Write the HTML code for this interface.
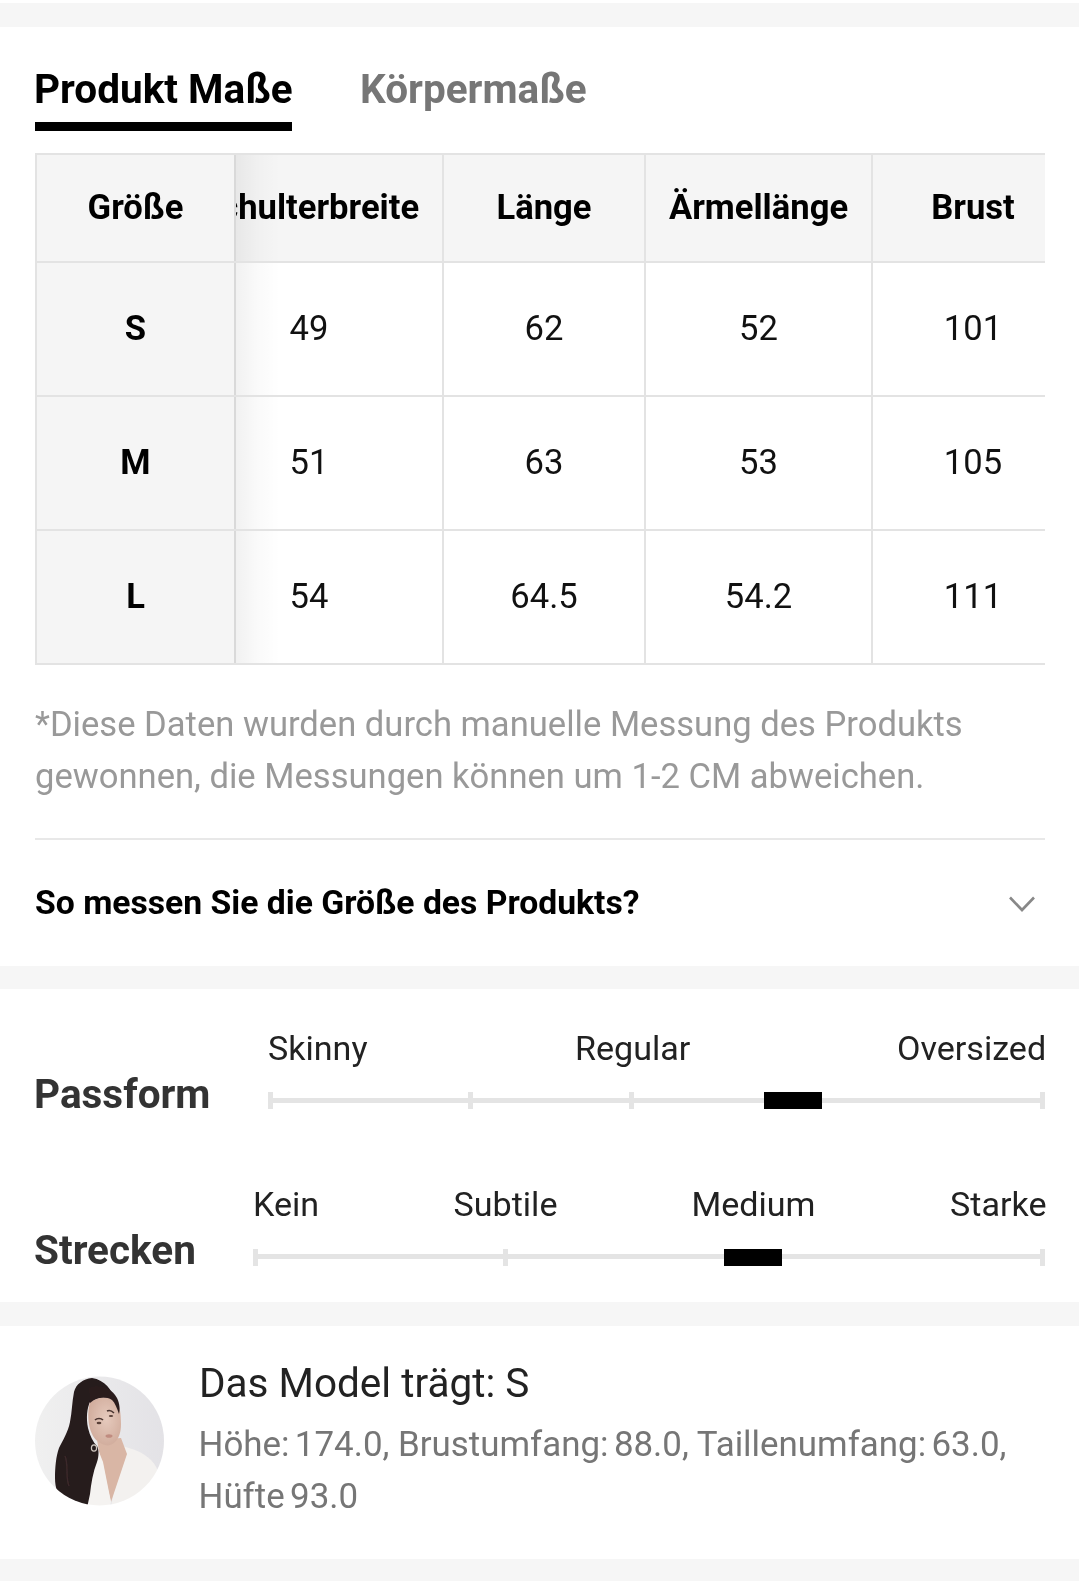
<!DOCTYPE html>
<html lang="de">
<head>
<meta charset="utf-8">
<title>Größentabelle</title>
<style>
*{box-sizing:border-box;margin:0;padding:0}
html,body{width:1079px;height:1590px;overflow:hidden;background:#fff}
body{position:relative;-webkit-font-smoothing:antialiased;font-family:"Roboto","Liberation Sans",Arial,sans-serif;color:#222}
.abs{position:absolute}
#page{position:absolute;left:0;top:0;width:1079px;height:1590px;background:#fff;overflow:hidden;will-change:transform}
.band{position:absolute;left:0;width:1079px;background:#f6f6f6}
.t{position:absolute;white-space:nowrap;line-height:1}
.tab1{left:34px;top:69px;font-size:40.5px;font-weight:700;color:#000}
.tab2{left:360px;top:69px;font-size:40.5px;font-weight:700;color:#767676}
.uline{left:35px;top:122px;width:257px;height:9px;background:#000}
/* table */
.tbl{position:absolute;left:35px;top:153px;width:1010px;height:512px;overflow:hidden}
.hl{position:absolute;left:0;width:1010px;height:2px;background:#e3e3e3}
.vl{position:absolute;top:0;width:2px;height:512px;background:#e3e3e3}
.cell{position:absolute;text-align:center;font-size:34.6px;line-height:1;white-space:nowrap}
.hd{font-weight:700;color:#000}
.num{color:#111}
.sticky{position:absolute;left:0;top:0;width:201px;height:512px;background:#f5f5f5}
.shadow{position:absolute;left:201px;top:0;width:44px;height:512px;background:linear-gradient(to right,rgba(0,0,0,.055),rgba(0,0,0,.02) 50%,rgba(0,0,0,0))}
.note{left:35px;top:698px;font-size:34.6px;line-height:52px;color:#999;white-space:nowrap}
.divider{left:35px;top:838px;width:1010px;height:2px;background:#e8e8e8}
.howto{left:35px;top:885.5px;font-size:33.7px;font-weight:700;color:#000}
.lbl{font-size:40.5px;font-weight:700;color:#333}
.opt{font-size:34.1px;color:#222}
.track{position:absolute;height:5px;background:#e4e4e4}
.tick{position:absolute;width:5px;height:17px;background:#e4e4e4}
.v{margin-left:5.4px}
.thumb{position:absolute;width:58px;height:17px;background:#000}
</style>
</head>
<body>
<div id="page">
<div class="band" style="top:3px;height:24px"></div>

<div class="t tab1">Produkt Maße</div>
<div class="t tab2">Körpermaße</div>
<div class="abs uline"></div>

<div class="tbl">
  <!-- header bg -->
  <div class="abs" style="left:0;top:0;width:1010px;height:110px;background:#f5f5f5"></div>
  <div class="shadow"></div>
  <!-- scrolled columns -->
  <div class="cell hd" style="left:141px;top:37px;width:266px">Schulterbreite</div>
  <div class="cell hd" style="left:409px;top:37px;width:200px">Länge</div>
  <div class="cell hd" style="left:611px;top:37px;width:225px">Ärmellänge</div>
  <div class="cell hd" style="left:838px;top:37px;width:200px">Brust</div>

  <div class="cell num" style="left:141px;top:158px;width:266px">49</div>
  <div class="cell num" style="left:409px;top:158px;width:200px">62</div>
  <div class="cell num" style="left:611px;top:158px;width:225px">52</div>
  <div class="cell num" style="left:838px;top:158px;width:200px">101</div>

  <div class="cell num" style="left:141px;top:292px;width:266px">51</div>
  <div class="cell num" style="left:409px;top:292px;width:200px">63</div>
  <div class="cell num" style="left:611px;top:292px;width:225px">53</div>
  <div class="cell num" style="left:838px;top:292px;width:200px">105</div>

  <div class="cell num" style="left:141px;top:426px;width:266px">54</div>
  <div class="cell num" style="left:409px;top:426px;width:200px">64.5</div>
  <div class="cell num" style="left:611px;top:426px;width:225px">54.2</div>
  <div class="cell num" style="left:838px;top:426px;width:200px">111</div>

  <!-- grid lines -->
  <div class="hl" style="top:0"></div>
  <div class="hl" style="top:108px"></div>
  <div class="hl" style="top:242px"></div>
  <div class="hl" style="top:376px"></div>
  <div class="hl" style="top:510px"></div>
  <div class="vl" style="left:407px"></div>
  <div class="vl" style="left:609px"></div>
  <div class="vl" style="left:836px"></div>

  <!-- sticky first column -->
  <div class="sticky">
    <div class="vl" style="left:0"></div>
    <div class="vl" style="left:199px;background:#d9d9d9"></div>
    <div class="hl" style="top:0;width:201px"></div>
    <div class="hl" style="top:108px;width:201px"></div>
    <div class="hl" style="top:242px;width:201px"></div>
    <div class="hl" style="top:376px;width:201px"></div>
    <div class="hl" style="top:510px;width:201px"></div>
    <div class="cell hd" style="left:2px;top:37px;width:197px">Größe</div>
    <div class="cell hd" style="left:2px;top:158px;width:197px">S</div>
    <div class="cell hd" style="left:2px;top:292px;width:197px">M</div>
    <div class="cell hd" style="left:2px;top:426px;width:197px">L</div>
  </div>
</div>

<div class="t note">*Diese Daten wurden durch manuelle Messung des Produkts<br>gewonnen, die Messungen können um 1-2 CM abweichen.</div>
<div class="abs divider"></div>
<div class="t howto">So messen Sie die Größe des Produkts?</div>
<svg class="abs" style="left:1005px;top:892px" width="34" height="24" viewBox="0 0 34 24"><path d="M5 5.5 L17 18 L29 5.5" fill="none" stroke="#888" stroke-width="2.6"/></svg>

<div class="band" style="top:966px;height:23px"></div>

<!-- Passform -->
<div class="t lbl" style="left:34px;top:1074px">Passform</div>
<div class="t opt" style="left:268px;top:1031px">Skinny</div>
<div class="t opt" style="left:575px;top:1031px">Regular</div>
<div class="t opt" style="left:897px;top:1031px">Oversized</div>
<div class="track" style="left:268px;top:1098px;width:777px"></div>
<div class="tick" style="left:268px;top:1092px"></div>
<div class="tick" style="left:468px;top:1092px"></div>
<div class="tick" style="left:629px;top:1092px"></div>
<div class="tick" style="left:1040px;top:1092px"></div>
<div class="thumb" style="left:764px;top:1092px"></div>

<!-- Strecken -->
<div class="t lbl" style="left:34px;top:1230px">Strecken</div>
<div class="t opt" style="left:253px;top:1187px">Kein</div>
<div class="t opt" style="left:453.5px;top:1187px">Subtile</div>
<div class="t opt" style="left:691.5px;top:1187px">Medium</div>
<div class="t opt" style="left:950px;top:1187px">Starke</div>
<div class="track" style="left:253px;top:1254px;width:792px"></div>
<div class="tick" style="left:253px;top:1249px"></div>
<div class="tick" style="left:503px;top:1249px"></div>
<div class="tick" style="left:1040px;top:1249px"></div>
<div class="thumb" style="left:724px;top:1249px"></div>

<div class="band" style="top:1302px;height:24px"></div>

<!-- Model -->
<svg class="abs" style="left:35px;top:1376px" width="130" height="130" viewBox="0 0 130 130">
  <defs>
    <clipPath id="c"><circle cx="64.5" cy="65" r="64.5"/></clipPath>
    <linearGradient id="bg" x1="0" y1="0" x2="1" y2="0"><stop offset="0" stop-color="#f0f0f0"/><stop offset="1" stop-color="#e3e2e6"/></linearGradient>
    <radialGradient id="sk" cx="0.55" cy="0.45" r="0.6"><stop offset="0" stop-color="#e6cabd"/><stop offset="1" stop-color="#d0ab9b"/></radialGradient>
    <filter id="bl" x="-5%" y="-5%" width="110%" height="110%"><feGaussianBlur stdDeviation="0.7"/></filter>
  </defs>
  <g clip-path="url(#c)"><g filter="url(#bl)">
    <rect width="130" height="130" fill="url(#bg)"/>
    <!-- white top right -->
    <path d="M86 70 C96 72 108 76 116 84 C124 92 127 104 124 118 L120 132 L76 132 Z" fill="#f3f1ef"/>
    <!-- neck / chest -->
    <path d="M62 64 L86 62 L92 78 L76 126 L66 86 Z" fill="#d9b6a5"/>
    <!-- white top left lapel -->
    <path d="M64 76 L68 86 L76 126 L74 132 L50 132 L52 110 L58 90 Z" fill="#f5f3f1"/>
    <!-- hair -->
    <path d="M57 2 C48 3 41 8 39 16 C37 26 37 36 35 46 C33 56 28 64 24 72 C21 80 20 92 20 102 C20 112 23 120 30 126 C36 130 44 132 52 132 L55 118 C56 108 58 96 62 86 C64 80 64 74 62 70 C58 66 55 60 53 52 C51 42 52 32 55 26 C60 22 70 20 80 24 C77 14 70 4 57 2 Z" fill="#261a1c"/>
    <!-- face -->
    <path d="M55 26 C62 21 74 20 80 23 C85 28 86 38 86 48 C86 56 84 62 80 66 C77 69 73 70 70 69 C64 67 59 63 57 58 C53 50 52 36 55 26 Z" fill="url(#sk)"/>
    <!-- hair strand over forehead/right -->
    <path d="M54 12 C62 8 76 10 82 22 C85 28 85 34 84 38 C82 32 80 27 77 24 C70 20 62 21 55 27 Z" fill="#2b1d1f"/>
    <path d="M30 80 C34 90 30 100 34 110" stroke="#4a3433" stroke-width="1.5" fill="none" opacity=".6"/>
    <!-- brows/eyes -->
    <path d="M60 44 C62 42 66 42 68 44" stroke="#4a3430" stroke-width="1.6" fill="none"/>
    <path d="M72 35 C74 34 77 35 79 37" stroke="#4a3430" stroke-width="1.6" fill="none"/>
    <ellipse cx="64" cy="47" rx="2.4" ry="1.2" fill="#5a4038"/>
    <ellipse cx="76" cy="40" rx="2.2" ry="1.1" fill="#5a4038"/>
    <!-- lips -->
    <ellipse cx="74" cy="60" rx="3.5" ry="1.8" fill="#c08c80"/>
    <!-- earring -->
    <ellipse cx="59" cy="72" rx="2.6" ry="3.2" fill="none" stroke="#cfc8c0" stroke-width="1.2"/>
  </g></g>
</svg>
<div class="t" style="left:199px;top:1363.3px;font-size:40.5px;color:#222">Das Model trägt: S</div>
<div class="t mdl" style="left:198.5px;top:1418.5px;font-size:34.9px;line-height:52px;color:#767676;white-space:nowrap">Höhe:<span class="v">174.0</span>, Brustumfang:<span class="v">88.0</span>, Taillenumfang:<span class="v">63.0</span>,<br>Hüfte<span class="v">93.0</span></div>

<div class="band" style="top:1559px;height:22px"></div>
</div>
</body>
</html>
